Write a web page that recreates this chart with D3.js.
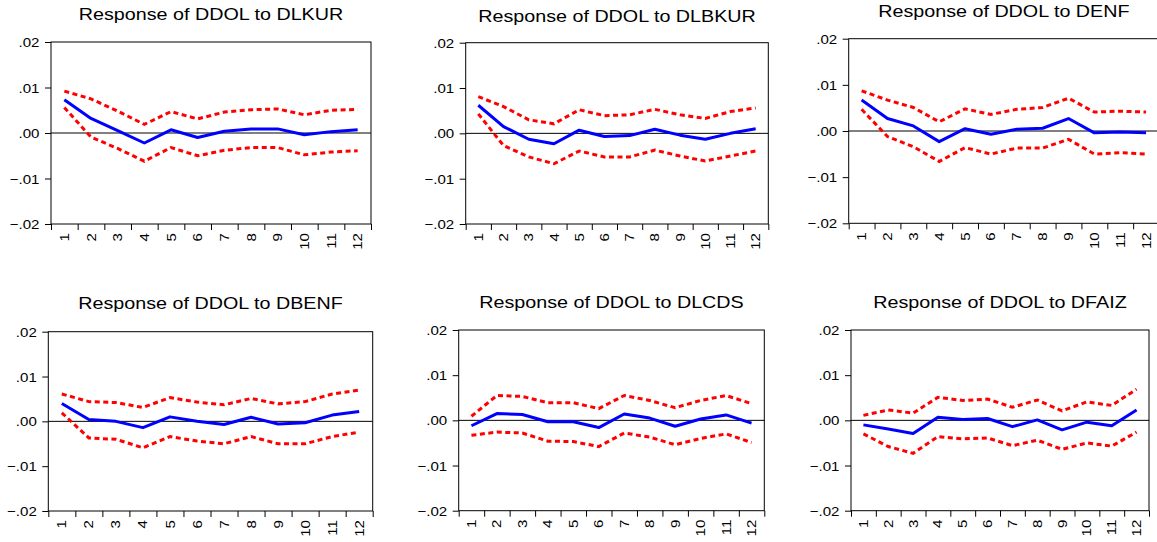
<!DOCTYPE html>
<html>
<head>
<meta charset="utf-8">
<script src="https://cdn.jsdelivr.net/npm/d3@7"></script>
<style>
  html, body { margin: 0; padding: 0; background: #fff; }
  svg { display: block; }
  text { font-family: "Liberation Sans", Arial, sans-serif; fill: #000; }
</style>
</head>
<body>
<svg id="chart" width="1157" height="542"></svg>
<script>
// impulse responses of DDOL, periods 1..12
const periods = ['1', '2', '3', '4', '5', '6', '7', '8', '9', '10', '11', '12'];
const yTicks = [-0.02, -0.01, 0, 0.01, 0.02];
const shocks = ['DLKUR', 'DLBKUR', 'DENF', 'DBENF', 'DLCDS', 'DFAIZ'];

const dlkurResp  = [0.0073, 0.0032, 0.0005, -0.0022, 0.0007, -0.0010, 0.0004, 0.0009, 0.0009, -0.0004, 0.0003, 0.0007];
const dlkurUpper = [0.0092, 0.0075, 0.0048, 0.0019, 0.0047, 0.0031, 0.0046, 0.0051, 0.0053, 0.0040, 0.0050, 0.0052];
const dlkurLower = [0.0056, -0.0009, -0.0034, -0.0062, -0.0032, -0.0050, -0.0038, -0.0032, -0.0032, -0.0048, -0.0042, -0.0039];

const dlbkurResp  = [0.0062, 0.0015, -0.0013, -0.0023, 0.0007, -0.0007, -0.0005, 0.0009, -0.0004, -0.0013, 0.0000, 0.0010];
const dlbkurUpper = [0.0081, 0.0059, 0.0030, 0.0021, 0.0052, 0.0039, 0.0041, 0.0053, 0.0041, 0.0033, 0.0048, 0.0056];
const dlbkurLower = [0.0043, -0.0027, -0.0052, -0.0067, -0.0039, -0.0052, -0.0052, -0.0037, -0.0050, -0.0061, -0.0050, -0.0039];

const denfResp  = [0.0067, 0.0027, 0.0011, -0.0023, 0.0005, -0.0007, 0.0004, 0.0006, 0.0027, -0.0004, -0.0002, -0.0004];
const denfUpper = [0.0087, 0.0067, 0.0051, 0.0020, 0.0048, 0.0036, 0.0047, 0.0051, 0.0071, 0.0041, 0.0043, 0.0041];
const denfLower = [0.0047, -0.0012, -0.0034, -0.0066, -0.0036, -0.0050, -0.0037, -0.0037, -0.0018, -0.0050, -0.0047, -0.0050];

const dbenfResp  = [0.0040, 0.0004, 0.0000, -0.0014, 0.0010, 0.0000, -0.0007, 0.0009, -0.0006, -0.0003, 0.0014, 0.0022];
const dbenfUpper = [0.0061, 0.0044, 0.0042, 0.0031, 0.0053, 0.0043, 0.0037, 0.0051, 0.0039, 0.0044, 0.0061, 0.0070];
const dbenfLower = [0.0019, -0.0037, -0.0040, -0.0059, -0.0034, -0.0044, -0.0050, -0.0034, -0.0050, -0.0050, -0.0034, -0.0024];

const dlcdsResp  = [-0.0012, 0.0015, 0.0013, -0.0003, -0.0003, -0.0016, 0.0014, 0.0005, -0.0013, 0.0003, 0.0012, -0.0006];
const dlcdsUpper = [0.0009, 0.0055, 0.0053, 0.0039, 0.0039, 0.0026, 0.0055, 0.0044, 0.0028, 0.0044, 0.0055, 0.0037];
const dlcdsLower = [-0.0033, -0.0026, -0.0028, -0.0046, -0.0047, -0.0058, -0.0028, -0.0037, -0.0054, -0.0040, -0.0030, -0.0049];

const dfaizResp  = [-0.0010, -0.0019, -0.0029, 0.0007, 0.0002, 0.0004, -0.0014, 0.0001, -0.0021, -0.0004, -0.0012, 0.0023];
const dfaizUpper = [0.0011, 0.0023, 0.0016, 0.0051, 0.0044, 0.0047, 0.0029, 0.0045, 0.0021, 0.0041, 0.0033, 0.0069];
const dfaizLower = [-0.0030, -0.0058, -0.0073, -0.0036, -0.0041, -0.0039, -0.0056, -0.0044, -0.0064, -0.0050, -0.0057, -0.0026];

const responses = [dlkurResp, dlbkurResp, denfResp, dbenfResp, dlcdsResp, dfaizResp];
const uppers = [dlkurUpper, dlbkurUpper, denfUpper, dbenfUpper, dlcdsUpper, dfaizUpper];
const lowers = [dlkurLower, dlbkurLower, denfLower, dbenfLower, dlcdsLower, dfaizLower];

// plot boxes as they sit in the picture
const boxes = [
  { l: 51, r: 371, t: 42, b: 224, title: 20.3, zero: '#808080', zw: 2 },
  { l: 465.7, r: 768.3, t: 42.7, b: 224, title: 21.7, zero: '#000', zw: 1 },
  { l: 848.7, r: 1159, t: 38.7, b: 223.3, title: 16.7, zero: '#000', zw: 1 },
  { l: 48.3, r: 372.7, t: 331.7, b: 511, title: 309.3, zero: '#000', zw: 1 },
  { l: 458.7, r: 764.3, t: 330, b: 510.7, title: 308.3, zero: '#000', zw: 1 },
  { l: 851, r: 1149, t: 330, b: 510.7, title: 308.3, zero: '#000', zw: 1 }
];

const stretch = 1.16; // the source text runs a bit wider than Arial
const svg = d3.select('#chart');

const fmtTick = (d) => {
  if (d === 0) return '.00';
  const s = d3.format('.2f')(d);
  return s.replace('0.', '.');
};

boxes.forEach((box, i) => {
  const g = svg.append('g').attr('class', 'panel');

  const x = d3.scaleBand().domain(periods).range([box.l, box.r]).padding(0);
  const xEdge = d3.scaleLinear().domain([0, periods.length]).range([box.l, box.r]);
  const y = d3.scaleLinear().domain([-0.02, 0.02]).range([box.b, box.t]);

  // title
  g.append('text')
    .attr('transform', 'translate(' + ((box.l + box.r) / 2) + ',' + box.title + ') scale(' + stretch + ',1)')
    .attr('text-anchor', 'middle')
    .attr('font-size', 17)
    .text('Response of DDOL to ' + shocks[i]);

  // y axis
  const yAxis = g.append('g')
    .attr('transform', 'translate(' + box.l + ',0)')
    .call(d3.axisLeft(y).tickValues(yTicks).tickFormat(fmtTick).tickSize(6).tickSizeOuter(0));
  yAxis.select('.domain').remove();
  yAxis.selectAll('.tick line').attr('stroke', '#000');
  yAxis.selectAll('.tick text')
    .attr('x', 0)
    .attr('dy', '0.35em')
    .attr('font-size', 13)
    .attr('font-family', '"Liberation Sans", Arial, sans-serif')
    .attr('transform', 'translate(-11.5,0) scale(' + stretch + ',1)');

  // x tick marks at band edges
  const xTicksG = g.append('g')
    .attr('transform', 'translate(0,' + box.b + ')')
    .call(d3.axisBottom(xEdge).ticks(periods.length).tickFormat('').tickSize(6).tickSizeOuter(0));
  xTicksG.select('.domain').remove();
  xTicksG.selectAll('.tick line').attr('stroke', '#000');

  // x labels at band centres, turned upright
  const xLab = g.append('g')
    .attr('transform', 'translate(0,' + box.b + ')')
    .call(d3.axisBottom(x).tickSize(0));
  xLab.select('.domain').remove();
  xLab.selectAll('.tick text')
    .attr('transform', 'rotate(-90) translate(-9,0) scale(' + stretch + ',1)')
    .attr('text-anchor', 'end')
    .attr('x', 0)
    .attr('y', 0)
    .attr('dy', '0.35em')
    .attr('font-size', 13)
    .attr('font-family', '"Liberation Sans", Arial, sans-serif');

  // zero line
  g.append('line')
    .attr('x1', box.l).attr('x2', box.r)
    .attr('y1', y(0)).attr('y2', y(0))
    .attr('stroke', box.zero)
    .attr('stroke-width', box.zw);

  const line = d3.line()
    .x((d, j) => x(periods[j]) + x.bandwidth() / 2)
    .y((d) => y(d));

  [uppers[i], lowers[i]].forEach((band) => {
    g.append('path')
      .datum(band)
      .attr('d', line)
      .attr('fill', 'none')
      .attr('stroke', '#ff0000')
      .attr('stroke-width', 3)
      .attr('stroke-dasharray', '5,3.5');
  });

  g.append('path')
    .datum(responses[i])
    .attr('d', line)
    .attr('fill', 'none')
    .attr('stroke', '#0000ff')
    .attr('stroke-width', 3)
    .attr('stroke-linejoin', 'round');

  // frame
  g.append('rect')
    .attr('x', box.l).attr('y', box.t)
    .attr('width', box.r - box.l).attr('height', box.b - box.t)
    .attr('fill', 'none')
    .attr('stroke', '#000')
    .attr('stroke-width', 1);
});
</script>
</body>
</html>
